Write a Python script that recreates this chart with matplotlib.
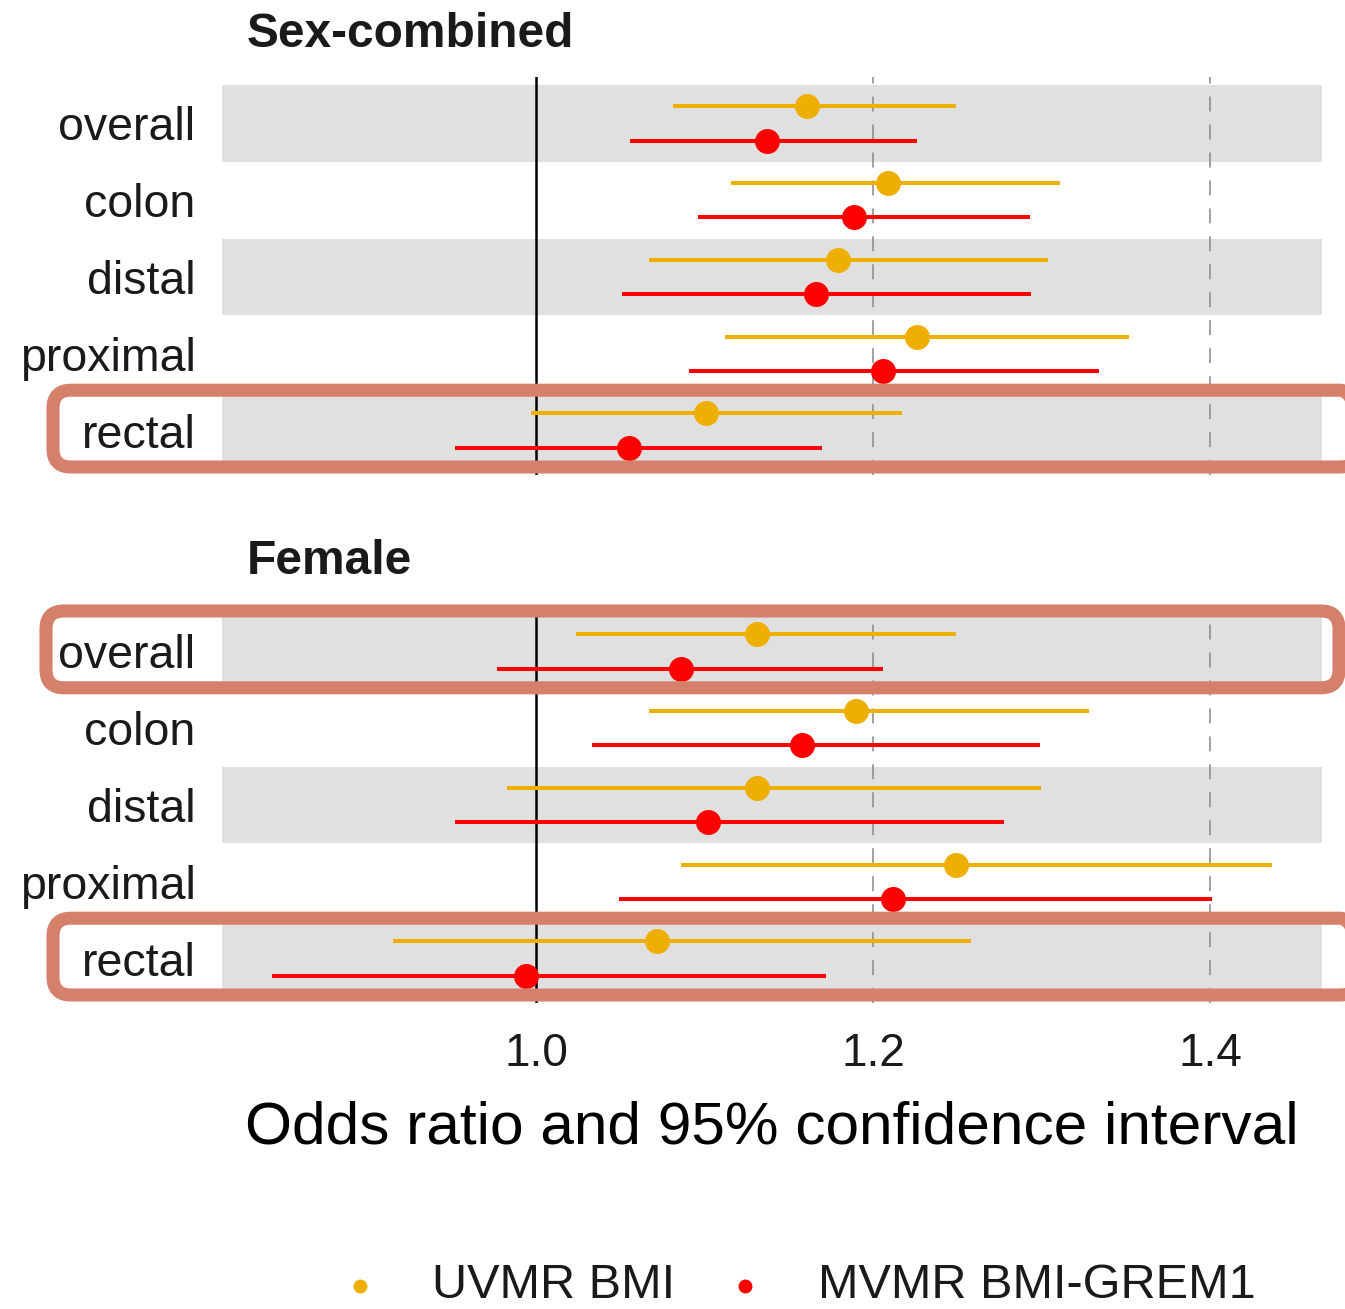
import numpy as np
import matplotlib.pyplot as plt
from matplotlib.patches import FancyBboxPatch
from matplotlib.lines import Line2D
from matplotlib.transforms import IdentityTransform

plt.rcParams['font.family'] = ['Liberation Sans', 'DejaVu Sans']

outcomes = ['overall', 'colon', 'distal', 'proximal', 'rectal']
methods = ['UVMR BMI', 'MVMR BMI-GREM1']
colors = ['#EFAF00', '#FF0000']
panels = ['Sex-combined', 'Female']

# sex-combined: odds ratio, lower, upper
sc_uv_or = [1.161, 1.209, 1.179, 1.226, 1.101]
sc_uv_lo = [1.081, 1.116, 1.067, 1.112, 0.997]
sc_uv_hi = [1.249, 1.311, 1.304, 1.352, 1.217]
sc_mv_or = [1.137, 1.189, 1.166, 1.206, 1.055]
sc_mv_lo = [1.056, 1.096, 1.051, 1.091, 0.952]
sc_mv_hi = [1.226, 1.293, 1.294, 1.334, 1.170]

# female
f_uv_or = [1.131, 1.190, 1.131, 1.249, 1.072]
f_uv_lo = [1.024, 1.067, 0.983, 1.086, 0.915]
f_uv_hi = [1.249, 1.328, 1.300, 1.437, 1.258]
f_mv_or = [1.086, 1.158, 1.102, 1.212, 0.994]
f_mv_lo = [0.977, 1.033, 0.952, 1.049, 0.843]
f_mv_hi = [1.206, 1.299, 1.278, 1.401, 1.172]

data = {
    'Sex-combined': [(sc_uv_or, sc_uv_lo, sc_uv_hi), (sc_mv_or, sc_mv_lo, sc_mv_hi)],
    'Female': [(f_uv_or, f_uv_lo, f_uv_hi), (f_mv_or, f_mv_lo, f_mv_hi)],
}

# rows to highlight (panel, outcome, box left/right in px)
highlights = [('Sex-combined', 'rectal', 53, 1358),
              ('Female', 'overall', 46, 1339),
              ('Female', 'rectal', 53, 1358)]

W, H = 1345, 1309
fig = plt.figure(figsize=(W / 100, H / 100), dpi=100)


def px_axes(left, top, right, bottom):
    return fig.add_axes([left / W, 1 - bottom / H, (right - left) / W, (bottom - top) / H])


axes = {}
boxes = [(77, 475), (605, 1003)]
ypos = 5 - np.arange(len(outcomes))
offsets = [0.225, -0.225]

for (top, bottom), name in zip(boxes, panels):
    ax = px_axes(222, top, 1322, bottom)
    axes[name] = ax
    for i, y in enumerate(ypos):
        if i % 2 == 0:
            ax.axhspan(y - 0.5, y + 0.5, color='#E0E0E0', lw=0, zorder=0)
    ax.axvline(1.0, color='black', lw=1.8, zorder=1)
    for v in [1.2, 1.4]:
        ax.axvline(v, color='#888888', lw=1.1, ls=(0, (9.8, 8.5)), zorder=1)
    for (est, lo, hi), off, c in zip(data[name], offsets, colors):
        ax.hlines(ypos + off, lo, hi, color=c, lw=2.9, zorder=2)
        ax.plot(est, ypos + off, 'o', ms=18, color=c, mec='none', zorder=3)
    ax.set_xlim(0.8136, 1.4665)
    ax.set_ylim(0.422, 5.604)
    ax.set_yticks(ypos)
    ax.set_yticklabels(outcomes, fontsize=33.5, color='#1A1A1A')
    ax.tick_params(axis='y', length=0, pad=19)
    for s in ax.spines.values():
        s.set_visible(False)
    fig.text(247 / W, 1 - (47 if name == 'Sex-combined' else 574) / H, name,
             fontsize=34.5, fontweight='bold', color='#1A1A1A', va='baseline')

axes['Sex-combined'].set_xticks([])
axb = axes['Female']
axb.set_xticks([1.0, 1.2, 1.4])
axb.set_xticklabels(['1.0', '1.2', '1.4'], fontsize=33, color='#1A1A1A')
axb.tick_params(axis='x', length=0, pad=21)

fig.text(772 / W, 1 - 1143 / H, 'Odds ratio and 95% confidence interval',
         fontsize=43.5, ha='center', va='baseline', color='black')

# highlight boxes drawn in pixel space, anchored to row positions
for name, outcome, x0, x1 in highlights:
    ax = axes[name]
    y = ypos[outcomes.index(outcome)]
    _, yb = ax.transData.transform((1.0, y - 0.5))
    _, yt = ax.transData.transform((1.0, y + 0.5))
    yb += 2
    yt += 2
    p = FancyBboxPatch((x0, yb), x1 - x0, yt - yb,
                       boxstyle='round,pad=0,rounding_size=18',
                       fill=False, ec='#D4806A', lw=9.4,
                       transform=IdentityTransform(), zorder=10)
    fig.add_artist(p)

# legend
for xd, xt, lab, c in zip([360, 745], [432, 818], methods, colors):
    fig.add_artist(Line2D([xd / W], [1 - 1286 / H], marker='o', ms=10, color=c,
                          mec='none', transform=fig.transFigure))
    fig.text(xt / W, 1 - 1298 / H, lab, fontsize=35, va='baseline', color='#1A1A1A')

fig.savefig('out.png', dpi=100)
